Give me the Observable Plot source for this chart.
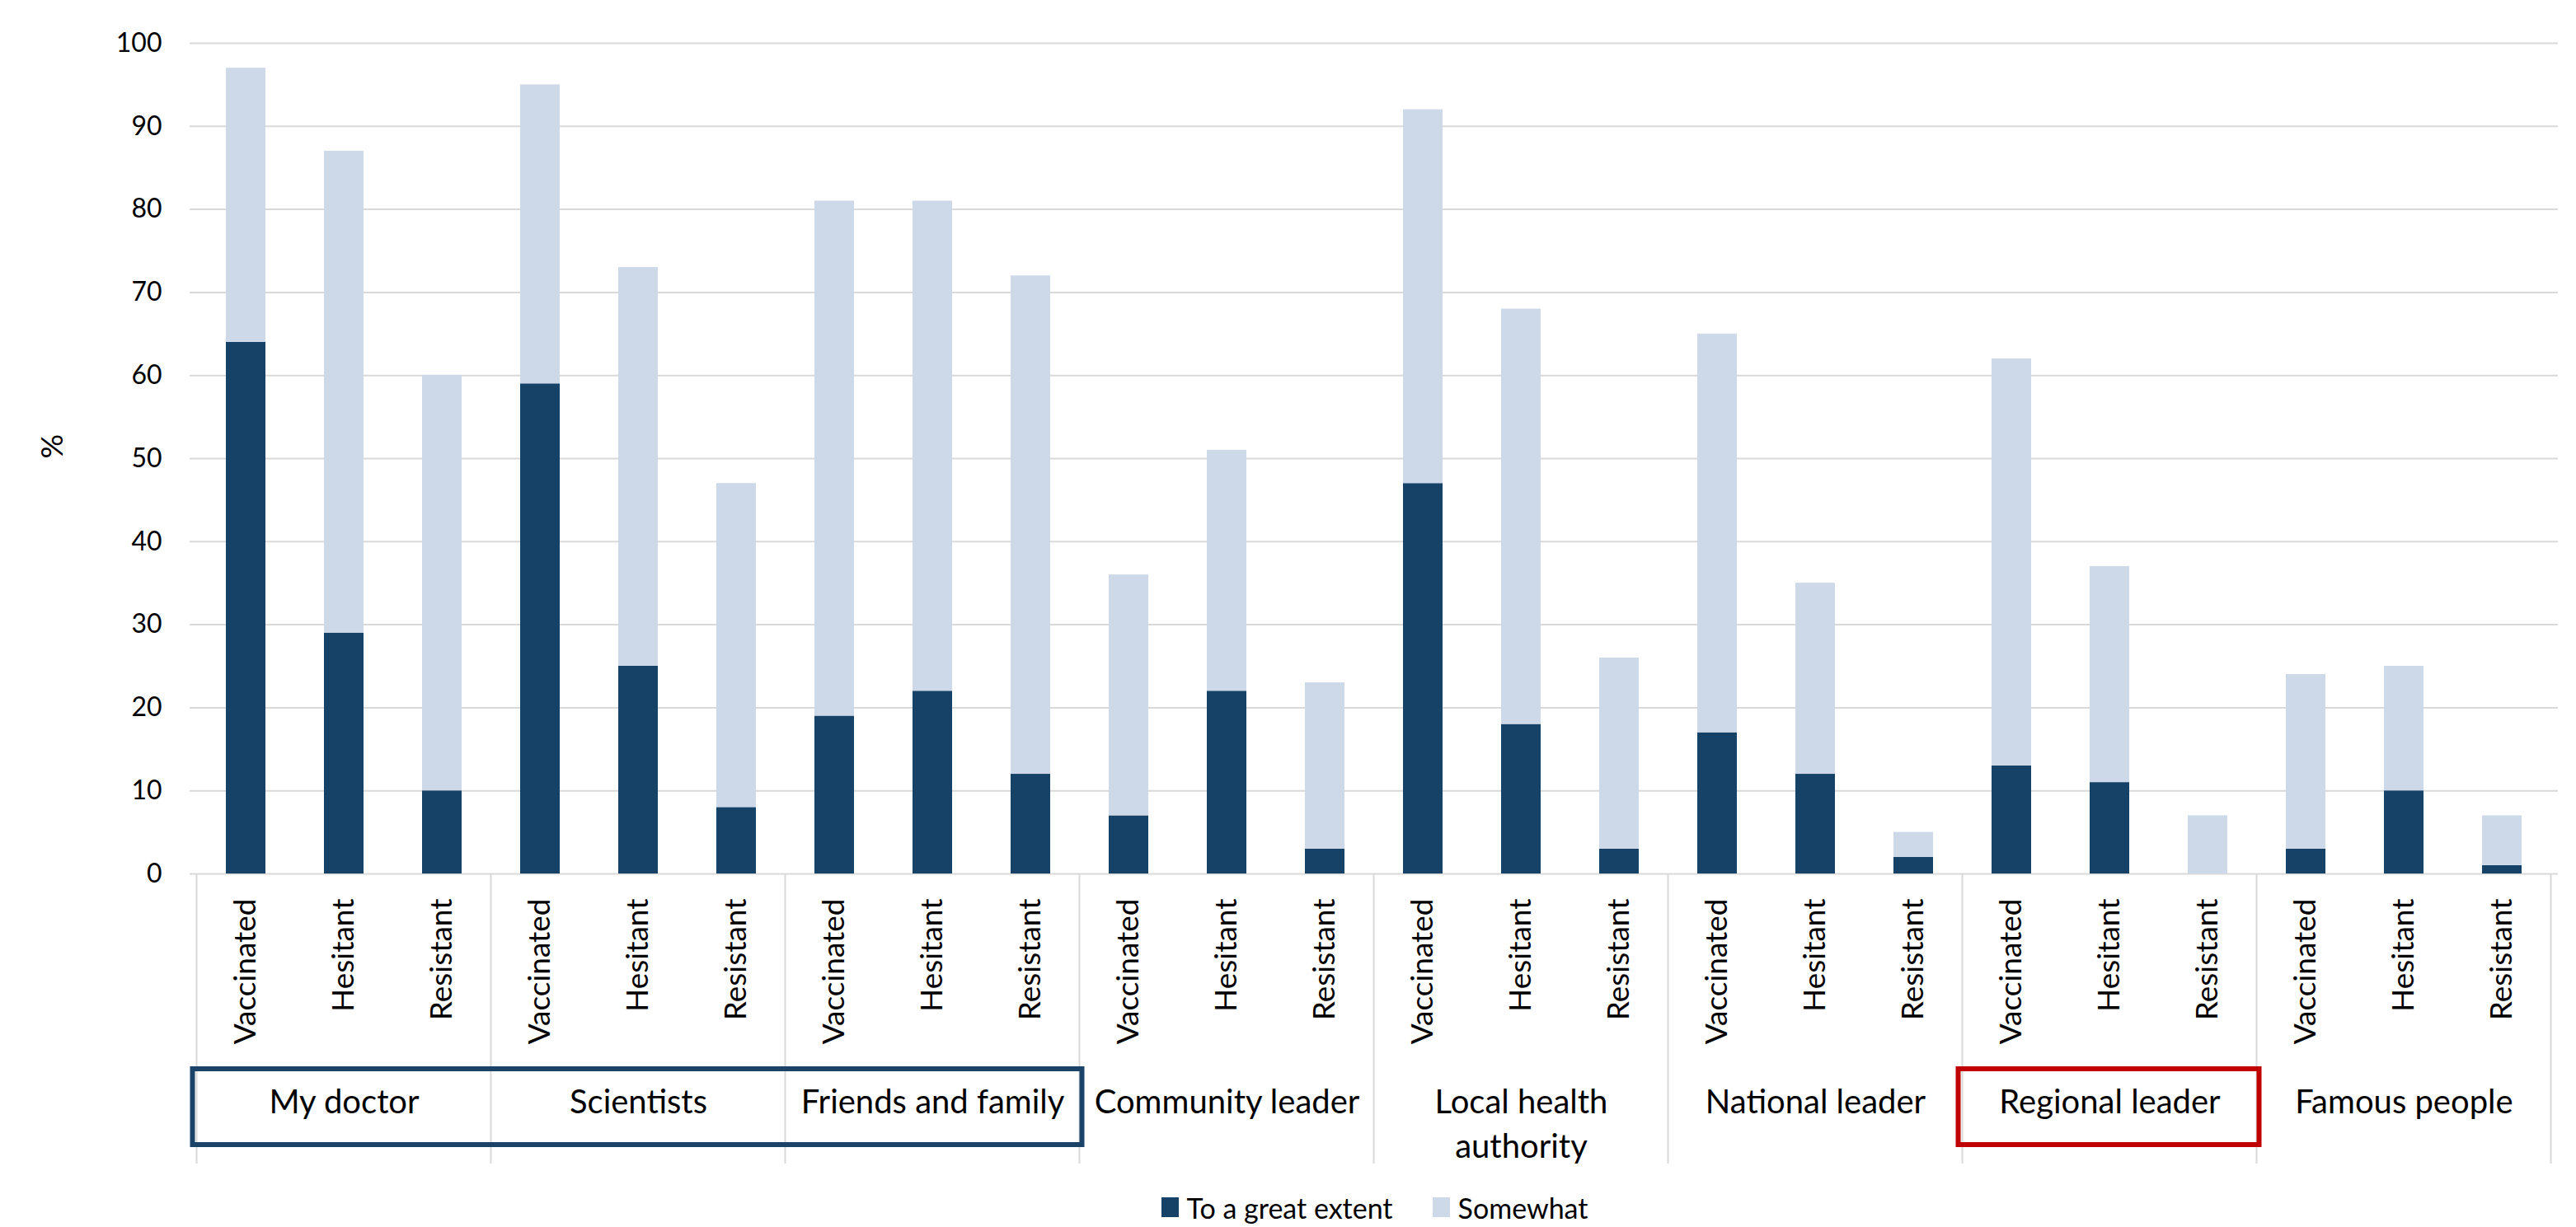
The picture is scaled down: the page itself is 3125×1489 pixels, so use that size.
<!DOCTYPE html>
<html>
<head>
<meta charset="utf-8">
<script src="https://cdn.jsdelivr.net/npm/d3@7"></script>
<script src="https://cdn.jsdelivr.net/npm/@observablehq/plot@0.6"></script>
<style>
  body { margin: 0; background: #fff; font-family: Lato, "Open Sans", sans-serif; }
  #legend { display: flex; justify-content: center; align-items: center; height: 70px;
            padding-left: 232px; padding-right: 22px; gap: 48px; font-size: 34px; color: #000; }
  .item { display: flex; align-items: center; gap: 10px; }
  .sw { width: 21px; height: 24px; display: inline-block; }
</style>
</head>
<body>
<div id="chart"></div>
<div id="legend"></div>
<script>
// ---- data ----
const groups = ["My doctor", "Scientists", "Friends and family", "Community leader",
                "Local health\nauthority", "National leader", "Regional leader", "Famous people"];
const statuses = ["Vaccinated", "Hesitant", "Resistant"];
const seriesNames = ["To a great extent", "Somewhat"];
const seriesColors = ["#174268", "#cdd8e8"];
// one value per bar, in group order (Vaccinated, Hesitant, Resistant)
const greatExtent = [64, 29, 10,  59, 25, 8,  19, 22, 12,  7, 22, 3,  47, 18, 3,  17, 12, 2,  13, 11, 0,  3, 10, 1];
const somewhat    = [33, 58, 50,  36, 48, 39, 62, 59, 60,  29, 29, 20, 45, 50, 23, 48, 23, 3,  49, 26, 7,  21, 15, 6];
const yTicks = [0, 10, 20, 30, 40, 50, 60, 70, 80, 90, 100];
// highlighted group ranges (group indices) with frame colours
const highlights = [
  {from: 0, to: 2, color: "#1b4368"},
  {from: 6, to: 6, color: "#c00000"}
];

// ---- build table ----
const keys = [];
const rows = [];
groups.forEach((g, gi) => statuses.forEach((s, si) => {
  const i = gi * 3 + si;
  const key = g + "|" + s;
  keys.push(key);
  rows.push({key, series: seriesNames[0], value: greatExtent[i]});
  rows.push({key, series: seriesNames[1], value: somewhat[i]});
}));

const W = 3125, H = 1430;
const ML = 230, MR = 22, MT = 52, MB = 370;

const decorations = (index, scales) => {
  const x = scales.x, y = scales.y;
  const step = x(keys[1]) - x(keys[0]);
  const bw = x.bandwidth();
  const edge = k => x(k) - (step - bw) / 2;
  const y0 = y(0);
  const g = d3.create("svg:g");
  const seps = groups.map((_, gi) => edge(keys[gi * 3])).concat([edge(keys[keys.length - 1]) + step]);
  seps.forEach(sx => g.append("line")
    .attr("x1", sx).attr("x2", sx).attr("y1", y0).attr("y2", y0 + 352)
    .attr("stroke", "#d9d9d9").attr("stroke-width", 2));
  highlights.forEach(h => {
    const x1 = edge(keys[h.from * 3]) - 5;
    const x2 = edge(keys[h.to * 3 + 2]) + step + 3;
    g.append("rect")
      .attr("x", x1).attr("y", y0 + 237)
      .attr("width", x2 - x1).attr("height", 92)
      .attr("fill", "none").attr("stroke", h.color).attr("stroke-width", 6);
  });
  return g.node();
};

const chart = Plot.plot({
  width: W, height: H,
  marginLeft: ML, marginRight: MR, marginTop: MT, marginBottom: MB,
  style: {fontFamily: "Lato, 'Open Sans', sans-serif", fontSize: "32px", color: "#000", background: "#fff"},
  x: {type: "band", domain: keys, paddingInner: 0.6, paddingOuter: 0.3, axis: null},
  y: {domain: [0, 100], ticks: yTicks, tickSize: 0, tickPadding: 34, label: null},
  color: {domain: seriesNames, range: seriesColors},
  marks: [
    Plot.ruleY(yTicks, {y: d => d, stroke: "#d9d9d9", strokeWidth: 2}),
    Plot.barY(rows, {x: "key", y: "value", fill: "series"}),
    decorations,
    Plot.text(keys, {x: d => d, y: () => 0, text: d => d.split("|")[1], rotate: -90,
                     textAnchor: "end", dy: 30, fontSize: 37, fill: "#000"}),
    Plot.text(groups, {x: (d, i) => keys[i * 3 + 1], y: () => 0, text: d => d,
                       dy: 252, lineAnchor: "top", lineHeight: 1.35, fontSize: 40, fill: "#000"}),
    Plot.text(["%"], {text: d => d, frameAnchor: "left", dx: -166, rotate: -90, fontSize: 37, fill: "#000"})
  ]
});
document.getElementById("chart").appendChild(chart);

// ---- legend ----
const legend = document.getElementById("legend");
seriesNames.forEach((name, i) => {
  const item = document.createElement("div");
  item.className = "item";
  const sw = document.createElement("span");
  sw.className = "sw";
  sw.style.background = seriesColors[i];
  const label = document.createElement("span");
  label.textContent = name;
  item.appendChild(sw);
  item.appendChild(label);
  legend.appendChild(item);
});
</script>
</body>
</html>
